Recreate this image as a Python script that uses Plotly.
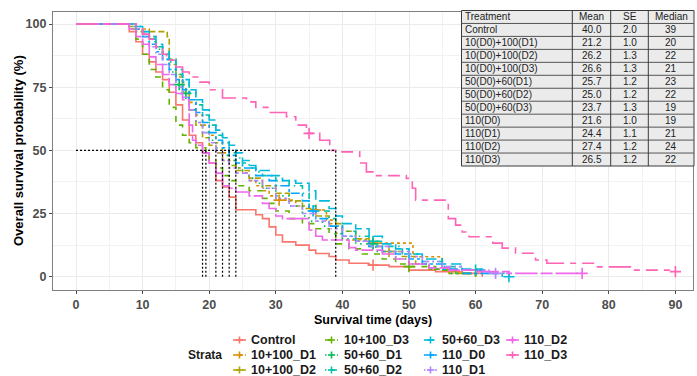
import plotly.graph_objects as go

# ---------------- data ----------------
strata = ["Control", "10+100_D1", "10+100_D2", "10+100_D3", "50+60_D1", "50+60_D2",
          "50+60_D3", "110_D0", "110_D1", "110_D2", "110_D3"]
colors = ["#F8766D", "#DB8E00", "#AEA200", "#64B200", "#00BD5C", "#00C1A7",
          "#00BADE", "#00A6FF", "#B385FF", "#EF67EB", "#FF63B6"]

# Kaplan-Meier steps (time in days, survival %)
km_control = [(0,100),(8,97),(9,93),(10,88),(11,85),(12,81),(13,78),(14,73),(15,68),(16,62),(17,56),
              (18,53),(19,49),(20,45),(21,38),(22,35.5),(23,31.5),(24,26.5),(27,24.5),(28,23),(29,19.7),
              (30,16.5),(31,13.8),(33,12.5),(35,10.5),(36,9.2),(38,8),(39,6.6),(41,5.3),(44,4.6),(47,4),
              (50,2.6),(54,2),(58,1.3),(61,0)]
km_10_100_d1 = [(0,100),(9,98),(11,95),(12,91),(13,88),(14,84),(15,79),(16,74),(17,69),(18,64),(19,60),
                (20,56),(21,53),(22,49),(23,46),(24,43),(25,41),(26,38),(27,36),(28,34),(29,32),(30,30.3),
                (33,28),(35,26.4),(37.6,22.4),(39,17.2),(40,14.5),(44,13.3),(50.6,7.9),(55,3),(57,1.3),(60,0)]
km_10_100_d2 = [(0,100),(8,99),(9,97),(13.7,95),(14,86),(15,80),(16,73),(17,66),(18,60),(19,55),(20,52),
                (21,49),(22,46),(23,44),(24,42),(26,39),(28,36),(30,33),(32,30),(34,27),(36,24),(38,21),
                (40,18),(42,15),(44,12),(46,10),(49,8),(51,5),(53,3),(56,1.3),(60,0)]
km_10_100_d3 = [(0,100),(8,98),(9,94),(10,88),(11,82),(12,79),(13,74),(14,67),(15,60),(16,56),(17,53),
                (18,51),(19.5,48),(20,46),(21,43),(22,40),(23,38),(24,36),(26,34),(28,31),(29,29),(30,26),
                (32,23),(34,21),(36,19),(38,17),(39,13),(41,11),(43,9),(46,7),(48,5),(50,4),(54,2.6),
                (57,1.3),(60,0)]
km_50_60_d1 = [(0,100),(9,99),(10,96),(11,93),(12,90),(13,86),(14,81),(15,76),(16,72.5),(17,66),(18,61),
               (19,57),(20,54),(21,51),(22,48),(23,46),(24,43),(25,41),(26,39),(27,37),(28,35),(30,32),
               (32,28),(34,24),(35,22),(37,20),(39,17),(40,15),(42,13),(45,10),(48,7),(50,5),(53,3),
               (56,1.3),(59,0)]
km_50_60_d2 = [(0,100),(9,98),(10,96),(11,94),(12,91),(13,88),(14,85),(15,80),(16,77),(17,73),(18,68),
               (19,64),(20,60),(21,56),(22,53),(23,49),(24,47),(25,45),(26,43),(27,41.5),(28,40),(30,38),
               (32,36),(34,33),(35,28),(36,26),(38,23),(39,20),(40,18),(42,16),(44,14),(46,12),(49,9),
               (52,6),(55,4),(58,2.6),(62,1.3),(65,0)]
km_50_60_d3 = [(0,100),(8,99),(10,97),(11,95),(12,92),(13,89),(14,86),(15,82),(16,78),(17,74),(18,70),
               (19,66),(20,62),(21,58),(22,55),(23,52),(24,49),(25,46),(26,44),(27,42),(29,40),(31,38),
               (33,37),(35,34),(36,30),(38,27),(39,24),(40,21),(42,19),(44,16),(46,13),(48,11),(50,9),
               (52,7),(55,5),(58,3),(61,1.3),(64,0)]
km_110_d0 = [(0,100),(9,98),(10,95),(11,92),(12,89),(13,86),(14,82),(15,78),(16,74),(17,70),(18,65),
             (19,61),(20,57),(21,54),(22,51),(23,48),(24,45),(25,43),(27,40),(29,38),(30,36),(32,33),
             (34,30),(35,26),(36,23),(38,20),(40,16),(42,14),(44,12),(46,10),(48,9),(50,7),(52,5),
             (55,3),(58,1.3),(62,0)]
km_110_d1 = [(0,100),(9,98),(10,95),(11,91),(12,88),(13,84),(14,80),(15,75),(16,71),(17,66),(18,61),
             (19,57),(20,53),(21,49),(22,46),(23,43),(24,41),(26,38),(28,35),(30,31),(32,28),(34,25),
             (36,22),(38,19),(40,16),(42,14),(44,12),(47,10),(50,8),(52,6),(55,4),(58,2.6),(62,1.3),(65,0)]
km_110_d2 = [(0,100),(8,98),(9,95),(10,92),(11,87),(12,84),(13,80),(14,76),(15,72.5),(16,70),(17,60),
             (17.5,54),(18,52),(19,49),(20,45),(21,41),(22,36),(23,35),(24,33.5),(26,32),(28,29),(29,27),
             (30,24),(31,23),(35,18.5),(36,16),(37,14.5),(41,11.5),(42,10.5),(46,9),(48,7),(50,5),
             (53,3.5),(56,2.6),(60,2),(65,1.3),(76,1.3)]
km_110_d3 = [(0,100),(9,98),(10,96),(11,94),(12,91),(13,88),(13.6,85.7),(15,83),(16,81),(17,79),(18.6,77),
             (20,74),(22,70.7),(25.6,69.2),(27,67),(29,65),(31.6,63.3),(33,60),(34.6,56.7),(36.6,54),
             (38.1,50),(39.6,49.4),(42.6,45),(43.6,41.5),(45,40),(49.6,38.9),(50.5,35),(51,30.3),
             (55.9,23),(57,20.4),(58,17.7),(59,15.8),(62.6,13.3),(64,11.3),(66,9.3),(69,6.6),(70.7,5.3),
             (78,3.9),(83.6,2.6),(90,2.0)]

# censoring times (days)
cens_control = [44.6]
cens_10_100_d1 = [30.5, 36, 44.6]
cens_10_100_d2 = [47]
cens_10_100_d3 = [50]
cens_50_60_d1 = [15.5, 16.5, 44.6]
cens_50_60_d2 = [44.6, 60]
cens_50_60_d3 = [65]
cens_110_d0 = [35.6]
cens_110_d1 = [63]
cens_110_d2 = [76]
cens_110_d3 = [35, 90]

median_lines = [19, 19.5, 21, 22, 23, 24, 39]

tbl_header = ["Treatment", "Mean", "SE", "Median"]
tbl_treat = ["Control", "10(D0)+100(D1)", "10(D0)+100(D2)", "10(D0)+100(D3)", "50(D0)+60(D1)",
             "50(D0)+60(D2)", "50(D0)+60(D3)", "110(D0)", "110(D1)", "110(D2)", "110(D3)"]
tbl_mean = ["40.0", "21.2", "26.2", "26.6", "25.7", "25.0", "23.7", "21.6", "24.4", "27.4", "26.5"]
tbl_se = ["2.0", "1.0", "1.3", "1.3", "1.2", "1.2", "1.3", "1.0", "1.1", "1.2", "1.2"]
tbl_median = ["39", "20", "22", "21", "23", "22", "19", "19", "21", "24", "22"]

x_ticks = [0, 10, 20, 30, 40, 50, 60, 70, 80, 90]
y_ticks = [0, 25, 50, 75, 100]

# ---------------- styles ----------------
kms = [km_control, km_10_100_d1, km_10_100_d2, km_10_100_d3, km_50_60_d1, km_50_60_d2,
       km_50_60_d3, km_110_d0, km_110_d1, km_110_d2, km_110_d3]
cens = [cens_control, cens_10_100_d1, cens_10_100_d2, cens_10_100_d3, cens_50_60_d1, cens_50_60_d2,
        cens_50_60_d3, cens_110_d0, cens_110_d1, cens_110_d2, cens_110_d3]
dashes = ["solid", "3px,3px", "6px,3px", "6px,6px", "1.5px,4.5px", "1.5px,4.5px,6px,4.5px",
          "10.5px,4.5px", "3px,3px,9px,3px", "1.5px,3px,3px,3px,4.5px,3px,6px,3px",
          "22.5px,3px,12px,3px", "22.5px,6px,6px,6px,12px,6px,6px,6px"]

W, H = 697, 376
PL, PR, PT, PB = 53, 693, 12, 290   # panel in pixels
FONT = "Liberation Sans, Arial, sans-serif"


def xp(px):
    return (px - PL) / (PR - PL)


def yp(py):
    return (PB - py) / (PB - PT)


def surv_at(km, t):
    s = km[0][1]
    for tt, ss in km:
        if tt <= t:
            s = ss
    return s


fig = go.Figure()

for name, col, dash, km, cz in zip(strata, colors, dashes, kms, cens):
    fig.add_trace(go.Scatter(x=[p[0] for p in km], y=[p[1] for p in km], mode="lines",
                             line=dict(shape="hv", color=col, width=1.6, dash=dash),
                             name=name, showlegend=False, hoverinfo="skip"))
    fig.add_trace(go.Scatter(x=cz, y=[surv_at(km, t) for t in cz], mode="markers",
                             marker=dict(symbol="cross-thin", size=8, line=dict(color=col, width=1.6)),
                             showlegend=False, hoverinfo="skip"))

# median lines
mline = dict(color="black", width=1.2, dash="2px,2px")
fig.add_trace(go.Scatter(x=[0, max(median_lines)], y=[50, 50], mode="lines", line=mline,
                         showlegend=False, hoverinfo="skip"))
for m in median_lines:
    fig.add_trace(go.Scatter(x=[m, m], y=[0, 50], mode="lines", line=mline,
                             showlegend=False, hoverinfo="skip"))

shapes = []
annotations = []

# ---------------- table ----------------
tcols = [461.5, 572.3, 610.7, 648.3, 694.0]
tx0, tx1 = tcols[0], tcols[-1]
ty0, ty1 = 10.5, 166.0
nrows = 1 + len(tbl_treat)
rh = (ty1 - ty0) / nrows
shapes.append(dict(type="rect", xref="paper", yref="paper", x0=xp(tx0), x1=xp(tx1), y0=yp(ty1), y1=yp(ty0),
                   fillcolor="#EBEBEB", line=dict(color="#3a3a3a", width=1), layer="above"))
for i in range(1, nrows):
    y = ty0 + i * rh
    shapes.append(dict(type="line", xref="paper", yref="paper", x0=xp(tx0), x1=xp(tx1), y0=yp(y), y1=yp(y),
                       line=dict(color="#555555", width=1), layer="above"))
for c in tcols[1:-1]:
    shapes.append(dict(type="line", xref="paper", yref="paper", x0=xp(c), x1=xp(c), y0=yp(ty0), y1=yp(ty1),
                       line=dict(color="#3a3a3a", width=1), layer="above"))

rows = [tbl_header] + [[a, b, c, d] for a, b, c, d in zip(tbl_treat, tbl_mean, tbl_se, tbl_median)]
for r, row in enumerate(rows):
    yc = ty0 + (r + 0.5) * rh
    for ci, txt in enumerate(row):
        if ci == 0:
            x, anc = tcols[0] + 1.5, "left"
        else:
            x, anc = (tcols[ci] + tcols[ci + 1]) / 2, "center"
        annotations.append(dict(x=xp(x), y=yp(yc), xref="paper", yref="paper", text=txt, showarrow=False,
                                xanchor=anc, yanchor="middle",
                                font=dict(family=FONT, size=10, color="#222222")))

# ---------------- legend (manual, column-major like ggplot) ----------------
leg_rows = [340, 355, 370]
key_x = [(233, 246), (325, 338), (424, 437), (506, 519)]
txt_x = [249, 342, 440, 522]
annotations.append(dict(x=xp(224), y=yp(355), xref="paper", yref="paper", text="<b>Strata</b>",
                        showarrow=False, xanchor="right", yanchor="middle",
                        font=dict(family=FONT, size=12, color="#1a1a1a")))
for i, (name, col, dash) in enumerate(zip(strata, colors, dashes)):
    c, r = divmod(i, 3)
    y = leg_rows[r]
    k0, k1 = key_x[c]
    shapes.append(dict(type="line", xref="paper", yref="paper", x0=xp(k0), x1=xp(k1), y0=yp(y), y1=yp(y),
                       line=dict(color=col, width=1.6, dash=dash)))
    kmid = (k0 + k1) / 2
    shapes.append(dict(type="line", xref="paper", yref="paper", x0=xp(kmid), x1=xp(kmid), y0=yp(y - 3.5),
                       y1=yp(y + 3.5), line=dict(color=col, width=1.6)))
    shapes.append(dict(type="line", xref="paper", yref="paper", x0=xp(kmid - 3.5), x1=xp(kmid + 3.5),
                       y0=yp(y), y1=yp(y), line=dict(color=col, width=1.6)))
    annotations.append(dict(x=xp(txt_x[c]), y=yp(y), xref="paper", yref="paper", text="<b>" + name + "</b>",
                            showarrow=False, xanchor="left", yanchor="middle",
                            font=dict(family=FONT, size=12.5, color="#1a1a1a")))

# axis titles
annotations.append(dict(x=xp(373), y=yp(320), xref="paper", yref="paper", text="<b>Survival time (days)</b>",
                        showarrow=False, xanchor="center", yanchor="middle",
                        font=dict(family=FONT, size=12.5, color="black")))
annotations.append(dict(x=xp(18), y=yp(151), xref="paper", yref="paper",
                        text="<b>Overall survival probability (%)</b>", textangle=-90,
                        showarrow=False, xanchor="center", yanchor="middle",
                        font=dict(family=FONT, size=13, color="black")))

x_lo = 0 - (76 - PL) / 6.66
x_hi = x_lo + (PR - PL) / 6.66
y_lo = 0 - (PB - 276.7) / 2.527
y_hi = y_lo + (PB - PT) / 2.527

tickfont = dict(family=FONT, size=12.5, color="#4D4D4D", weight="bold")
fig.update_layout(
    width=W, height=H, margin=dict(l=PL, r=W - PR, t=PT, b=H - PB),
    paper_bgcolor="white", plot_bgcolor="white", showlegend=False,
    shapes=shapes, annotations=annotations,
    xaxis=dict(range=[x_lo, x_hi], tickvals=x_ticks, ticks="outside", ticklen=3, tickcolor="#4D4D4D",
               tickfont=tickfont, showgrid=True, gridcolor="#EBEBEB", gridwidth=1,
               minor=dict(dtick=5, tick0=0, showgrid=True, gridcolor="#F2F2F2", gridwidth=0.8),
               showline=True, mirror=True, linecolor="#7F7F7F", linewidth=1.2, zeroline=False),
    yaxis=dict(range=[y_lo, y_hi], tickvals=y_ticks, ticks="outside", ticklen=3, tickcolor="#4D4D4D",
               tickfont=tickfont, showgrid=True, gridcolor="#EBEBEB", gridwidth=1,
               minor=dict(dtick=12.5, tick0=0, showgrid=True, gridcolor="#F2F2F2", gridwidth=0.8),
               showline=True, mirror=True, linecolor="#7F7F7F", linewidth=1.2, zeroline=False),
)

fig.write_html("out.html")
